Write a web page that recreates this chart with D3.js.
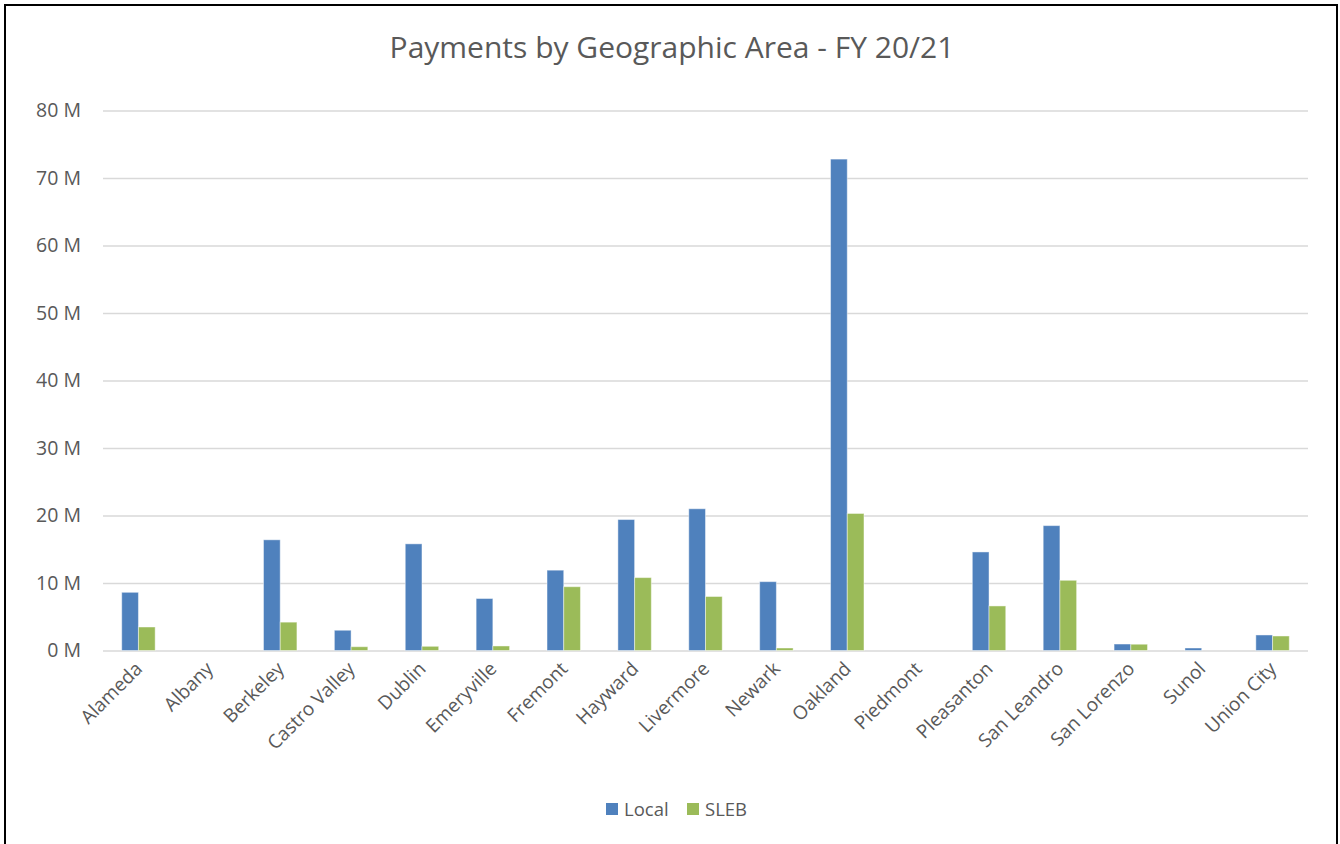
<!DOCTYPE html>
<html>
<head>
<meta charset="utf-8">
<script src="https://cdn.jsdelivr.net/npm/d3@7"></script>
<style>
  body { margin: 0; background: #fff; }
  svg { display: block; font-family: "Open Sans", sans-serif; }
</style>
</head>
<body>
<svg id="chart" width="1340" height="844"></svg>
<script>
//-----------------------------------
//  Payments by Geographic Area - FY 20/21
//-----------------------------------

// categories along the x axis
var cities = ["Alameda", "Albany", "Berkeley", "Castro Valley", "Dublin", "Emeryville",
  "Fremont", "Hayward", "Livermore", "Newark", "Oakland", "Piedmont", "Pleasanton",
  "San Leandro", "San Lorenzo", "Sunol", "Union City"];

var seriesNames = ["Local", "SLEB"];
var seriesColors = ["#4F81BD", "#9BBB59"];

// values in millions
var localValues = [8.62, 0, 16.4, 3.0, 15.8, 7.7, 11.9, 19.4, 21.0, 10.2, 72.8, 0, 14.6, 18.5, 0.96, 0.37, 2.3];
var slebValues  = [3.48, 0, 4.2, 0.56, 0.62, 0.67, 9.45, 10.8, 8.0, 0.37, 20.3, 0, 6.6, 10.4, 0.93, 0, 2.15];

var yTicks = [0, 10, 20, 30, 40, 50, 60, 70, 80];

var svg = d3.select("#chart");
var textColor = "#595959";

//Outer frame
svg.append("rect")
  .attr("x", 5).attr("y", 5)
  .attr("width", 1332).attr("height", 850)
  .attr("fill", "none")
  .attr("stroke", "#000")
  .attr("stroke-width", 2);

//Title
svg.append("text")
  .attr("x", 672).attr("y", 58)
  .attr("text-anchor", "middle")
  .attr("fill", textColor)
  .style("font-size", "30px")
  .text("Payments by Geographic Area - FY 20/21");

//Scales
var x0 = d3.scaleBand().domain(cities).range([103, 1308]);
var x1 = d3.scaleBand().domain(seriesNames).range([0, x0.bandwidth()]).paddingInner(0).paddingOuter(1.12);
var y = d3.scaleLinear().domain([0, 80]).range([650.5, 110.5]);

//Gridlines + y labels
var yAxis = d3.axisLeft(y)
  .tickValues(yTicks)
  .tickSize(-(1308 - 103))
  .tickPadding(22)
  .tickFormat(function(d) { return d + " M"; });

var gy = svg.append("g")
  .attr("transform", "translate(103,0)")
  .call(yAxis);
gy.select(".domain").remove();
gy.selectAll(".tick line").attr("stroke", "#D9D9D9").attr("stroke-width", 1.5);
gy.selectAll(".tick text")
  .attr("fill", textColor)
  .style("font-size", "19.5px")
  .style("font-family", "'Open Sans', sans-serif");

//Bars
var rows = cities.map(function(c, i) {
  return { city: c, vals: [localValues[i], slebValues[i]] };
});

var groups = svg.append("g").selectAll("g")
  .data(rows)
  .join("g")
  .attr("transform", function(d) { return "translate(" + x0(d.city) + ",0)"; });

groups.selectAll("rect")
  .data(function(d) { return d.vals.map(function(v, j) { return { key: seriesNames[j], value: v, color: seriesColors[j] }; }); })
  .join("rect")
  .filter(function(d) { return d.value > 0; })
  .attr("x", function(d) { return x1(d.key); })
  .attr("y", function(d) { return y(d.value); })
  .attr("width", x1.bandwidth())
  .attr("height", function(d) { return y(0) - y(d.value); })
  .attr("fill", function(d) { return d.color; })
  .attr("stroke", "rgba(255,255,255,0.45)")
  .attr("stroke-width", 1);

//X labels, rotated
svg.append("g").selectAll("text")
  .data(cities)
  .join("text")
  .attr("transform", function(d) {
    return "translate(" + (x0(d) + x0.bandwidth() / 2 + 5) + ",670) rotate(-45)";
  })
  .attr("text-anchor", "end")
  .attr("fill", textColor)
  .style("font-size", "19px")
  .text(function(d) { return d; });

//Legend
var legend = svg.append("g").attr("transform", "translate(606,803)");
var legendX = [0, 81];
seriesNames.forEach(function(name, i) {
  var g = legend.append("g").attr("transform", "translate(" + legendX[i] + ",0)");
  g.append("rect").attr("width", 12).attr("height", 12).attr("fill", seriesColors[i]);
  g.append("text")
    .attr("x", 18).attr("y", 13)
    .attr("fill", textColor)
    .style("font-size", "18.5px")
    .text(name);
});
</script>
</body>
</html>
